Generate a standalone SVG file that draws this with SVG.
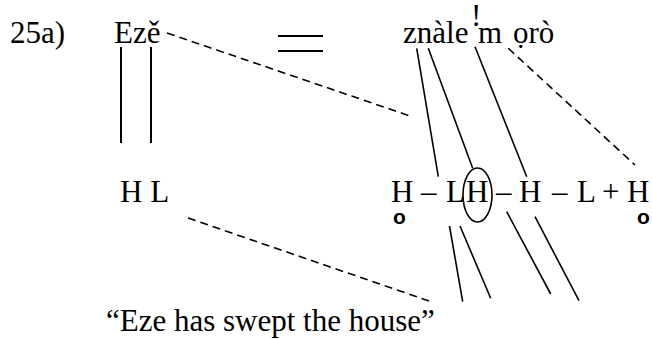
<svg xmlns="http://www.w3.org/2000/svg" width="652" height="339" viewBox="0 0 652 339">
<style>
.t{font-family:'Liberation Serif','Times New Roman',Tinos,'DejaVu Serif',serif;font-size:31px;fill:#000}
.s{font-family:'Liberation Sans',Arial,sans-serif;font-size:21px;font-weight:bold;fill:#000}
.l{stroke:#000;stroke-width:1.6;fill:none}
.v{stroke:#000;stroke-width:2;fill:none}
.d{stroke:#000;stroke-width:1.6;fill:none;stroke-dasharray:8 5}
</style>
<rect width="652" height="339" fill="#fff"/>
<g id="label"><text class="t" x="10" y="43">25a)</text></g>
<g id="eze"><text class="t" x="114" y="43">Ezě</text></g>
<g id="equals"><line class="v" x1="278" y1="36" x2="323" y2="36"/><line class="v" x1="278" y1="51" x2="323" y2="51"/></g>
<g id="znalem">
<text class="t" x="403" y="43">znàle</text>
<text class="t" x="471" y="26">!</text>
<text class="t" x="478" y="43">m</text>
<text class="t" x="513" y="43">ọrò</text>
</g>
<g id="hl"><text class="t" x="120" y="202">H L</text></g>
<g id="tones">
<text class="t" x="391" y="202">H</text>
<text class="s" x="393" y="224">o</text>
<text class="t" x="421" y="202">–</text>
<text class="t" x="446" y="202">L</text>
<text class="t" x="466" y="202">H</text>
<text class="t" x="496" y="202">–</text>
<text class="t" x="519" y="202">H</text>
<text class="t" x="552" y="202">–</text>
<text class="t" x="577" y="202">L</text>
<text class="t" x="602" y="202">+</text>
<text class="t" x="627" y="202">H</text>
<text class="s" x="637" y="224">o</text>
<ellipse class="l" cx="477.5" cy="195" rx="14.5" ry="27"/>
</g>
<g id="gloss"><text class="t" x="106" y="331">“Eze has swept the house”</text></g>
<g id="connectors">
<line class="v" x1="121" y1="47" x2="121" y2="143"/>
<line class="v" x1="151" y1="47" x2="151" y2="143"/>
<line class="d" x1="167" y1="33" x2="413" y2="117"/>
<line class="l" x1="416.7" y1="48.3" x2="438.3" y2="176.7"/>
<line class="l" x1="428.3" y1="48.3" x2="472.7" y2="168.3"/>
<line class="l" x1="475" y1="46.7" x2="526.7" y2="176.7"/>
<line class="d" x1="508.3" y1="48.3" x2="635" y2="165"/>
<line class="d" x1="188" y1="218" x2="432" y2="302"/>
<line class="l" x1="449.5" y1="226" x2="462.7" y2="301.7"/>
<line class="l" x1="460" y1="226" x2="490.7" y2="298.3"/>
<line class="l" x1="506.7" y1="211.7" x2="550.7" y2="294"/>
<line class="l" x1="535" y1="216.7" x2="579" y2="300.7"/>
</g>
</svg>
